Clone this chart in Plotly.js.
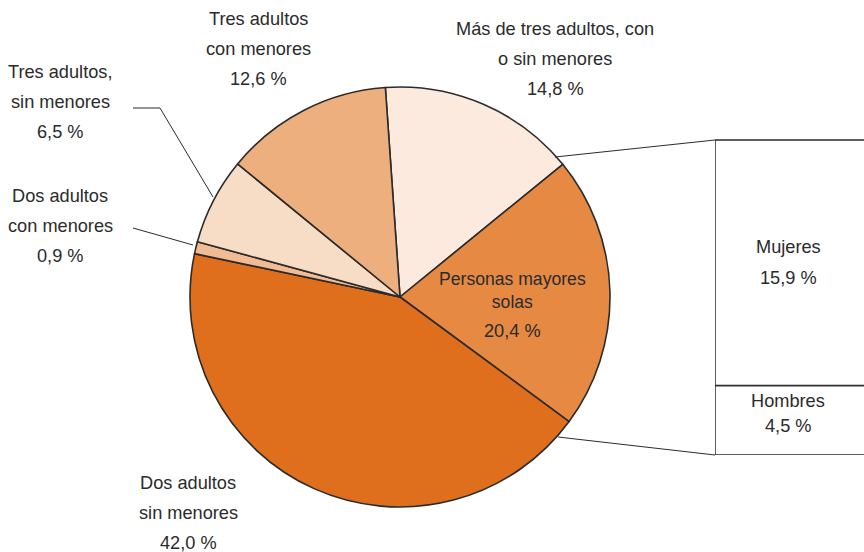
<!DOCTYPE html>
<html>
<head>
<meta charset="utf-8">
<script src="https://cdn.plot.ly/plotly-3.0.1.min.js"></script>
<style>
  html, body { margin: 0; padding: 0; background: #fff; }
  #myPlot { width: 864px; height: 552px; }
</style>
</head>
<body>
<div id="myPlot"></div>
<script>
// hogares por tipo (%), clockwise from the top
var pieLabels = ["Más de tres adultos, con o sin menores", "Personas mayores solas", "Dos adultos sin menores",
                 "Dos adultos con menores", "Tres adultos, sin menores", "Tres adultos con menores"];
var pieValues = [14.8, 20.4, 42.0, 0.9, 6.5, 12.6];

// desglose de personas mayores solas
var sexLabels = ["Hombres", "Mujeres"];
var sexValues = [4.5, 15.9];

var pieColors = ["#fdeade", "#e68942", "#df6e1d", "#f3bb93", "#f7dcc6", "#eeaf7f"];
var ink = "#2b2b2b";
var W = 864, H = 552;
var FONT = "Liberation Sans, Arial, sans-serif";

function pct(v) { return v.toFixed(1).replace(".", ",") + " %"; }
function px(x) { return x / W; }
function py(y) { return 1 - y / H; }

// label blocks: [slice index, lines, centre x, first line y, line step]
var labelLayout = [
  [0, ["Más de tres adultos, con", "o sin menores"], 555, 29, 30],
  [5, ["Tres adultos", "con menores"], 258, 19, 30],
  [4, ["Tres adultos,", "sin menores"], 60, 72, 30],
  [3, ["Dos adultos", "con menores"], 60, 196, 30],
  [2, ["Dos adultos", "sin menores"], 188, 483, 30]
];

var annotations = [];
function addLine(txt, x, y, size) {
  annotations.push({
    text: txt, x: px(x), y: py(y), xref: "paper", yref: "paper",
    xanchor: "center", yanchor: "middle", showarrow: false,
    font: {family: FONT, size: size || 18.2, color: ink}
  });
}
labelLayout.forEach(function (b) {
  var lines = b[1].concat([pct(pieValues[b[0]])]);
  lines.forEach(function (t, k) { addLine(t, b[2], b[3] + k * b[4]); });
});
// inside the big slice
addLine("Personas mayores<br>solas", 512, 290, 17.6);
addLine(pct(pieValues[1]), 512, 331);
// inside the box
addLine(sexLabels[1], 788, 247);
addLine(pct(sexValues[1]), 788, 278);
addLine(sexLabels[0], 788, 401);
addLine(pct(sexValues[0]), 788, 426);

function seg(x0, y0, x1, y1) {
  return {type: "line", xref: "paper", yref: "paper",
          x0: px(x0), y0: py(y0), x1: px(x1), y1: py(y1),
          line: {color: ink, width: 1}};
}
var shapes = [
  seg(133, 108, 160, 108), seg(160, 108, 213, 197),
  seg(133, 228, 193, 245),
  seg(555, 157, 715, 140), seg(558, 437, 715, 455)
];

var total = sexValues[0] + sexValues[1];
var pad = 0.97; // leave a little room above the box so its top edge shows

var data = [
  {
    type: "pie", labels: pieLabels, values: pieValues, sort: false,
    direction: "clockwise", rotation: -4,
    marker: {colors: pieColors, line: {color: ink, width: 1.6}},
    textinfo: "none", hoverinfo: "label+value",
    domain: {x: [px(190), px(610)], y: [py(507), py(87)]}
  },
  {
    type: "bar", x: [0.5, 0.5], y: sexValues, width: 1, name: "sexo",
    marker: {color: "#ffffff", line: {color: ink, width: 1.5}},
    xaxis: "x", yaxis: "y", hoverinfo: "y", textposition: "none"
  }
];

var layout = {
  width: W, height: H,
  margin: {l: 0, r: 0, t: 0, b: 0},
  paper_bgcolor: "#ffffff", plot_bgcolor: "rgba(0,0,0,0)",
  showlegend: false, barmode: "stack",
  xaxis: {domain: [px(715), 1], range: [0, 0.9], visible: false, fixedrange: true},
  yaxis: {domain: [py(455), py(455 - 315 / pad)], range: [0, total / pad], visible: false, fixedrange: true},
  annotations: annotations,
  shapes: shapes
};

Plotly.newPlot("myPlot", data, layout, {staticPlot: true});
</script>
</body>
</html>
